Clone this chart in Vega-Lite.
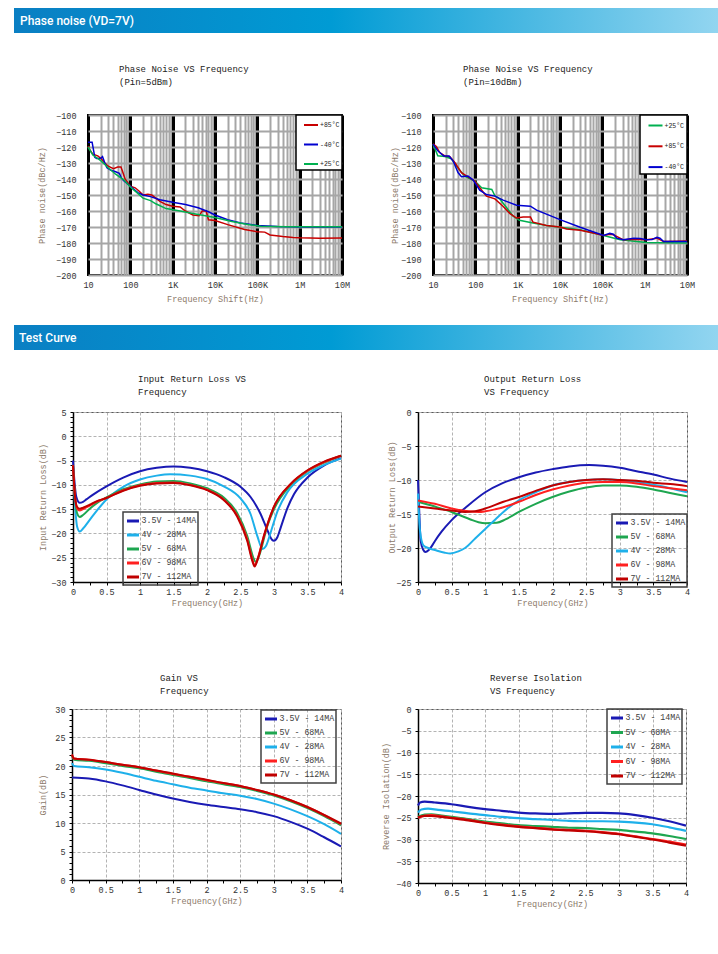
{
"$schema": "https://vega.github.io/schema/vega-lite/v6.json",
"padding": {"left": 0, "top": 8, "right": 0, "bottom": 0},
"spacing": 0, "bounds": "full",
"resolve": {"scale": {"color": "independent"}, "legend": {"color": "independent"}},
"config": {
 "font": "Liberation Mono",
 "view": {"stroke": null},
 "axis": {"labelFont": "Liberation Mono", "titleFont": "Liberation Mono", "labelFontSize": 8.5, "titleFontSize": 8.5, "titleFontWeight": "normal", "labelColor": "#333333", "titleColor": "#8c7a6a", "domain": false, "ticks": false, "labelOverlap": false, "labelFlush": false},
 "legend": {"strokeWidth": 1.5, "labelFont": "Liberation Mono"},
 "title": {"font": "Liberation Mono", "fontSize": 9, "fontWeight": "normal", "color": "#222222", "anchor": "start", "frame": "group", "lineHeight": 13}
},
"vconcat": [
 {"spacing": 0, "bounds": "flush", "hconcat": [
  {"width":14,"height":25,"data":{"values":[]},"mark":"point"},
  {"width":704,"height":25,"data":{"values":[{"section":"Phase noise (VD=7V)"}]},
   "layer":[
    {"mark":{"type":"rect","color":{"gradient":"linear","x1":0,"x2":1,"y1":0,"y2":0,"stops":[{"offset":0,"color":"#0a7fc3"},{"offset":0.45,"color":"#009bd4"},{"offset":1,"color":"#92d5f0"}]}},"encoding":{}},
    {"mark":{"type":"text","align":"left","baseline":"middle","dx":6,"font":"Roboto","fontSize":12,"fontWeight":500,"color":"#ffffff"},
     "encoding":{"x":{"datum":0,"type":"quantitative","scale":{"domain":[0,1]},"axis":null},"text":{"field":"section"}}}
   ]}
 ]},
 {"width":0,"height":31,"data":{"values":[]},"mark":"point"},
 {"spacing": 0, "bounds": "flush", "resolve": {"scale": {"color": "independent"}, "legend": {"color": "independent"}}, "hconcat": [
  {"width":88,"height":160,"data":{"values":[]},"mark":"point"},
  {"width":254,"height":160,
   "title":{"text":["Phase Noise VS Frequency","(Pin=5dBm)"],"dx":31,"offset":24},
   "view":{"stroke":"#000000","strokeWidth":2},
   "data":{"values":[
    {"t":"+85°C","f":10,"v":-119.5},{"t":"+85°C","f":11.5,"v":-122.5},{"t":"+85°C","f":13,"v":-124.5},{"t":"+85°C","f":17,"v":-125.5},{"t":"+85°C","f":20,"v":-127},{"t":"+85°C","f":25,"v":-130},{"t":"+85°C","f":30,"v":-132},{"t":"+85°C","f":40,"v":-133.5},{"t":"+85°C","f":50,"v":-132.5},{"t":"+85°C","f":60,"v":-132.5},{"t":"+85°C","f":65,"v":-135},{"t":"+85°C","f":75,"v":-140},{"t":"+85°C","f":100,"v":-144.5},{"t":"+85°C","f":130,"v":-145.5},{"t":"+85°C","f":160,"v":-147.5},{"t":"+85°C","f":200,"v":-150},{"t":"+85°C","f":260,"v":-149.5},{"t":"+85°C","f":320,"v":-150},{"t":"+85°C","f":400,"v":-152},{"t":"+85°C","f":500,"v":-154},{"t":"+85°C","f":700,"v":-156},{"t":"+85°C","f":1000,"v":-157},{"t":"+85°C","f":1500,"v":-157.5},{"t":"+85°C","f":2000,"v":-160},{"t":"+85°C","f":3000,"v":-162.5},{"t":"+85°C","f":4200,"v":-163},{"t":"+85°C","f":5000,"v":-160},{"t":"+85°C","f":6200,"v":-160},{"t":"+85°C","f":7000,"v":-165.5},{"t":"+85°C","f":10000,"v":-166},{"t":"+85°C","f":20000,"v":-168.5},{"t":"+85°C","f":50000,"v":-171.5},{"t":"+85°C","f":100000,"v":-173},{"t":"+85°C","f":150000,"v":-173.2},{"t":"+85°C","f":200000,"v":-175},{"t":"+85°C","f":400000,"v":-176},{"t":"+85°C","f":700000,"v":-176.5},{"t":"+85°C","f":1000000,"v":-176.7},{"t":"+85°C","f":3000000,"v":-177},{"t":"+85°C","f":10000000,"v":-176.8},
    {"t":"-40°C","f":10,"v":-117},{"t":"-40°C","f":12.5,"v":-117},{"t":"-40°C","f":14.5,"v":-126.5},{"t":"-40°C","f":16,"v":-127.2},{"t":"-40°C","f":20,"v":-127},{"t":"-40°C","f":22,"v":-126},{"t":"-40°C","f":25,"v":-130},{"t":"-40°C","f":28,"v":-133},{"t":"-40°C","f":35,"v":-134.5},{"t":"-40°C","f":45,"v":-135.5},{"t":"-40°C","f":55,"v":-136.5},{"t":"-40°C","f":62,"v":-139.5},{"t":"-40°C","f":70,"v":-141},{"t":"-40°C","f":100,"v":-144.5},{"t":"-40°C","f":150,"v":-148.5},{"t":"-40°C","f":200,"v":-150},{"t":"-40°C","f":300,"v":-151},{"t":"-40°C","f":500,"v":-153},{"t":"-40°C","f":1000,"v":-154.5},{"t":"-40°C","f":2000,"v":-156},{"t":"-40°C","f":4000,"v":-158},{"t":"-40°C","f":7000,"v":-160.5},{"t":"-40°C","f":10000,"v":-162.5},{"t":"-40°C","f":20000,"v":-165.5},{"t":"-40°C","f":40000,"v":-167.5},{"t":"-40°C","f":100000,"v":-169},{"t":"-40°C","f":300000,"v":-169.7},{"t":"-40°C","f":1000000,"v":-170},{"t":"-40°C","f":10000000,"v":-170},
    {"t":"+25°C","f":10,"v":-120},{"t":"+25°C","f":13,"v":-125},{"t":"+25°C","f":20,"v":-128.5},{"t":"+25°C","f":30,"v":-133},{"t":"+25°C","f":45,"v":-137},{"t":"+25°C","f":70,"v":-140.5},{"t":"+25°C","f":100,"v":-145},{"t":"+25°C","f":150,"v":-149},{"t":"+25°C","f":200,"v":-152},{"t":"+25°C","f":300,"v":-153.5},{"t":"+25°C","f":400,"v":-155.5},{"t":"+25°C","f":700,"v":-158.5},{"t":"+25°C","f":1500,"v":-160},{"t":"+25°C","f":3000,"v":-161.5},{"t":"+25°C","f":10000,"v":-164},{"t":"+25°C","f":25000,"v":-166.5},{"t":"+25°C","f":60000,"v":-168.5},{"t":"+25°C","f":120000,"v":-169.5},{"t":"+25°C","f":500000,"v":-169.8},{"t":"+25°C","f":10000000,"v":-169.8}
   ]},
   "mark":{"type":"line","strokeWidth":1.5},
   "encoding":{
    "x":{"field":"f","type":"quantitative","scale":{"type":"log","domain":[10,10000000],"nice":false},
     "axis":{"values":[10,20,30,40,50,60,70,80,90,100,200,300,400,500,600,700,800,900,1000,2000,3000,4000,5000,6000,7000,8000,9000,10000,20000,30000,40000,50000,60000,70000,80000,90000,100000,200000,300000,400000,500000,600000,700000,800000,900000,1000000,2000000,3000000,4000000,5000000,6000000,7000000,8000000,9000000,10000000],
      "labelExpr":"datum.value == 10 ? '10' : datum.value == 100 ? '100' : datum.value == 1000 ? '1K' : datum.value == 10000 ? '10K' : datum.value == 100000 ? '100K' : datum.value == 1000000 ? '1M' : datum.value == 10000000 ? '10M' : ''",
      "title":"Frequency Shift(Hz)","grid":true,
      "gridColor":{"condition":{"test":"indexof([10,100,1000,10000,100000,1000000,10000000], datum.value) >= 0","value":"#000000"},"value":"#a6a6a6"},
      "gridWidth":{"condition":{"test":"indexof([10,100,1000,10000,100000,1000000,10000000], datum.value) >= 0","value":3},"value":2},
      "labelPadding":5,"titlePadding":6}},
    "y":{"field":"v","type":"quantitative","scale":{"domain":[-200,-100],"nice":false},
     "axis":{"values":[-200,-190,-180,-170,-160,-150,-140,-130,-120,-110,-100],"title":"Phase noise(dBc/Hz)","grid":true,"gridColor":"#a6a6a6","gridWidth":2,"labelPadding":12,"titlePadding":9}},
    "color":{"field":"t","type":"nominal","scale":{"domain":["+85°C","-40°C","+25°C"],"range":["#c80000","#0000d0","#00b050"]},
     "legend":{"title":null,"orient":"top-right","offset":0,"padding":2,"rowPadding":7.5,"symbolType":"stroke","symbolSize":196,"symbolStrokeWidth":2,"symbolOffset":5,"labelFontSize":6.5,"labelColor":"#222222","labelOffset":1,"strokeColor":"#000000","fillColor":"#ffffff"}}
   }},
  {"width":91,"height":160,"data":{"values":[]},"mark":"point"},
  {"width":254,"height":160,
   "title":{"text":["Phase Noise VS Frequency","(Pin=10dBm)"],"dx":30,"offset":24},
   "view":{"stroke":"#000000","strokeWidth":2},
   "data":{"values":[
    {"t":"+25°C","f":10,"v":-118.2},{"t":"+25°C","f":13,"v":-125.5},{"t":"+25°C","f":19,"v":-126},{"t":"+25°C","f":27,"v":-127.3},{"t":"+25°C","f":36,"v":-132},{"t":"+25°C","f":56,"v":-138.2},{"t":"+25°C","f":81,"v":-140.3},{"t":"+25°C","f":98,"v":-141.3},{"t":"+25°C","f":141,"v":-145.5},{"t":"+25°C","f":245,"v":-146.5},{"t":"+25°C","f":290,"v":-150.5},{"t":"+25°C","f":380,"v":-152.5},{"t":"+25°C","f":550,"v":-158},{"t":"+25°C","f":780,"v":-163.3},{"t":"+25°C","f":1100,"v":-165.8},{"t":"+25°C","f":2300,"v":-167.5},{"t":"+25°C","f":4800,"v":-169},{"t":"+25°C","f":10000,"v":-170.2},{"t":"+25°C","f":30000,"v":-171.7},{"t":"+25°C","f":107000,"v":-175.3},{"t":"+25°C","f":265000,"v":-178},{"t":"+25°C","f":1100000,"v":-179.7},{"t":"+25°C","f":10000000,"v":-180},
    {"t":"+85°C","f":10,"v":-118},{"t":"+85°C","f":12,"v":-119.7},{"t":"+85°C","f":14.4,"v":-123.5},{"t":"+85°C","f":19,"v":-125.6},{"t":"+85°C","f":25,"v":-126},{"t":"+85°C","f":33,"v":-129.8},{"t":"+85°C","f":47,"v":-136},{"t":"+85°C","f":67,"v":-138.6},{"t":"+85°C","f":97,"v":-141.3},{"t":"+85°C","f":127,"v":-145.5},{"t":"+85°C","f":183,"v":-150.7},{"t":"+85°C","f":290,"v":-152.4},{"t":"+85°C","f":450,"v":-157},{"t":"+85°C","f":660,"v":-161.6},{"t":"+85°C","f":940,"v":-164.4},{"t":"+85°C","f":1350,"v":-163.7},{"t":"+85°C","f":2000,"v":-163.7},{"t":"+85°C","f":2300,"v":-167},{"t":"+85°C","f":4800,"v":-169},{"t":"+85°C","f":10000,"v":-170},{"t":"+85°C","f":14300,"v":-171.3},{"t":"+85°C","f":30000,"v":-172.1},{"t":"+85°C","f":61000,"v":-173.8},{"t":"+85°C","f":107000,"v":-175.3},{"t":"+85°C","f":150000,"v":-174.5},{"t":"+85°C","f":182000,"v":-174.9},{"t":"+85°C","f":218000,"v":-175.9},{"t":"+85°C","f":315000,"v":-178},{"t":"+85°C","f":500000,"v":-177.6},{"t":"+85°C","f":1100000,"v":-178},{"t":"+85°C","f":1950000,"v":-177},{"t":"+85°C","f":2800000,"v":-179.1},{"t":"+85°C","f":10000000,"v":-178.7},
    {"t":"-40°C","f":10,"v":-118.2},{"t":"-40°C","f":13,"v":-122.4},{"t":"-40°C","f":18,"v":-125.6},{"t":"-40°C","f":24,"v":-125.6},{"t":"-40°C","f":30,"v":-128.8},{"t":"-40°C","f":39,"v":-136},{"t":"-40°C","f":47,"v":-138.6},{"t":"-40°C","f":67,"v":-138.2},{"t":"-40°C","f":89,"v":-140.7},{"t":"-40°C","f":127,"v":-147},{"t":"-40°C","f":183,"v":-149.7},{"t":"-40°C","f":290,"v":-150.7},{"t":"-40°C","f":454,"v":-153.2},{"t":"-40°C","f":940,"v":-156.4},{"t":"-40°C","f":2000,"v":-157},{"t":"-40°C","f":2800,"v":-159.5},{"t":"-40°C","f":10000,"v":-165.4},{"t":"-40°C","f":30000,"v":-170.2},{"t":"-40°C","f":107000,"v":-175.3},{"t":"-40°C","f":150000,"v":-174},{"t":"-40°C","f":182000,"v":-174.5},{"t":"-40°C","f":220000,"v":-177},{"t":"-40°C","f":315000,"v":-178},{"t":"-40°C","f":550000,"v":-177},{"t":"-40°C","f":790000,"v":-177.2},{"t":"-40°C","f":1100000,"v":-178},{"t":"-40°C","f":1500000,"v":-177.8},{"t":"-40°C","f":1950000,"v":-176.5},{"t":"-40°C","f":2300000,"v":-177},{"t":"-40°C","f":2800000,"v":-179.1},{"t":"-40°C","f":10000000,"v":-179.1}
   ]},
   "mark":{"type":"line","strokeWidth":1.5},
   "encoding":{
    "x":{"field":"f","type":"quantitative","scale":{"type":"log","domain":[10,10000000],"nice":false},
     "axis":{"values":[10,20,30,40,50,60,70,80,90,100,200,300,400,500,600,700,800,900,1000,2000,3000,4000,5000,6000,7000,8000,9000,10000,20000,30000,40000,50000,60000,70000,80000,90000,100000,200000,300000,400000,500000,600000,700000,800000,900000,1000000,2000000,3000000,4000000,5000000,6000000,7000000,8000000,9000000,10000000],
      "labelExpr":"datum.value == 10 ? '10' : datum.value == 100 ? '100' : datum.value == 1000 ? '1K' : datum.value == 10000 ? '10K' : datum.value == 100000 ? '100K' : datum.value == 1000000 ? '1M' : datum.value == 10000000 ? '10M' : ''",
      "title":"Frequency Shift(Hz)","grid":true,
      "gridColor":{"condition":{"test":"indexof([10,100,1000,10000,100000,1000000,10000000], datum.value) >= 0","value":"#000000"},"value":"#a6a6a6"},
      "gridWidth":{"condition":{"test":"indexof([10,100,1000,10000,100000,1000000,10000000], datum.value) >= 0","value":3},"value":2},
      "labelPadding":5,"titlePadding":6}},
    "y":{"field":"v","type":"quantitative","scale":{"domain":[-200,-100],"nice":false},
     "axis":{"values":[-200,-190,-180,-170,-160,-150,-140,-130,-120,-110,-100],"title":"Phase noise(dBc/Hz)","grid":true,"gridColor":"#a6a6a6","gridWidth":2,"labelPadding":12,"titlePadding":1}},
    "color":{"field":"t","type":"nominal","scale":{"domain":["+25°C","+85°C","-40°C"],"range":["#00b050","#c80000","#0000d0"]},
     "legend":{"title":null,"orient":"top-right","offset":0,"padding":2.5,"rowPadding":8.8,"symbolType":"stroke","symbolSize":196,"symbolStrokeWidth":2,"symbolOffset":5,"labelFontSize":6.5,"labelColor":"#222222","labelOffset":1,"strokeColor":"#000000","fillColor":"#ffffff"}}
   }}
 ]},
 {"width":0,"height":21,"data":{"values":[]},"mark":"point"},
 {"spacing": 0, "bounds": "flush", "hconcat": [
  {"width":14,"height":25,"data":{"values":[]},"mark":"point"},
  {"width":704,"height":25,"data":{"values":[{"section":"Test Curve"}]},
   "layer":[
    {"mark":{"type":"rect","color":{"gradient":"linear","x1":0,"x2":1,"y1":0,"y2":0,"stops":[{"offset":0,"color":"#0a7fc3"},{"offset":0.45,"color":"#009bd4"},{"offset":1,"color":"#92d5f0"}]}},"encoding":{}},
    {"mark":{"type":"text","align":"left","baseline":"middle","dx":5,"font":"Roboto","fontSize":12,"fontWeight":500,"color":"#ffffff"},
     "encoding":{"x":{"datum":0,"type":"quantitative","scale":{"domain":[0,1]},"axis":null},"text":{"field":"section"}}}
   ]}
 ]},
 {"width":0,"height":24,"data":{"values":[]},"mark":"point"},
 {"spacing": 0, "bounds": "flush", "resolve": {"scale": {"color": "independent"}, "legend": {"color": "independent"}}, "hconcat": [
  {"width":73,"height":170,"data":{"values":[]},"mark":"point"},
  {"width":268,"height":170,
   "title":{"text":["Input Return Loss VS","Frequency"],"dx":65,"offset":11},
   "view":{"stroke":"#595959","strokeWidth":1},
   "data":{"values":[
    {"s":"3.5V - 14MA","f":0,"v":-5.0},{"s":"3.5V - 14MA","f":0.02,"v":-9},{"s":"3.5V - 14MA","f":0.05,"v":-12.5},{"s":"3.5V - 14MA","f":0.1,"v":-13.7},{"s":"3.5V - 14MA","f":0.15,"v":-13.5},{"s":"3.5V - 14MA","f":0.2,"v":-13.0},{"s":"3.5V - 14MA","f":0.3,"v":-12.0},{"s":"3.5V - 14MA","f":0.5,"v":-10.3},{"s":"3.5V - 14MA","f":0.75,"v":-8.5},{"s":"3.5V - 14MA","f":1.0,"v":-7.2},{"s":"3.5V - 14MA","f":1.25,"v":-6.5},{"s":"3.5V - 14MA","f":1.5,"v":-6.2},{"s":"3.5V - 14MA","f":1.75,"v":-6.5},{"s":"3.5V - 14MA","f":2.0,"v":-7.2},{"s":"3.5V - 14MA","f":2.25,"v":-8.4},{"s":"3.5V - 14MA","f":2.5,"v":-10.4},{"s":"3.5V - 14MA","f":2.65,"v":-12.5},{"s":"3.5V - 14MA","f":2.8,"v":-16},{"s":"3.5V - 14MA","f":2.9,"v":-19.3},{"s":"3.5V - 14MA","f":2.97,"v":-21.3},{"s":"3.5V - 14MA","f":3.0,"v":-21.5},{"s":"3.5V - 14MA","f":3.05,"v":-20.8},{"s":"3.5V - 14MA","f":3.1,"v":-18.8},{"s":"3.5V - 14MA","f":3.2,"v":-14.8},{"s":"3.5V - 14MA","f":3.3,"v":-11.9},{"s":"3.5V - 14MA","f":3.5,"v":-8.5},{"s":"3.5V - 14MA","f":3.75,"v":-6.0},{"s":"3.5V - 14MA","f":4.0,"v":-4.5},
    {"s":"4V - 28MA","f":0,"v":-6},{"s":"4V - 28MA","f":0.03,"v":-14},{"s":"4V - 28MA","f":0.06,"v":-18.5},{"s":"4V - 28MA","f":0.1,"v":-19.6},{"s":"4V - 28MA","f":0.15,"v":-19.0},{"s":"4V - 28MA","f":0.25,"v":-17.2},{"s":"4V - 28MA","f":0.35,"v":-15.4},{"s":"4V - 28MA","f":0.5,"v":-13.0},{"s":"4V - 28MA","f":0.75,"v":-10.4},{"s":"4V - 28MA","f":1.0,"v":-8.9},{"s":"4V - 28MA","f":1.25,"v":-8.1},{"s":"4V - 28MA","f":1.45,"v":-7.8},{"s":"4V - 28MA","f":1.75,"v":-8.1},{"s":"4V - 28MA","f":2.0,"v":-8.8},{"s":"4V - 28MA","f":2.25,"v":-10.3},{"s":"4V - 28MA","f":2.5,"v":-12.8},{"s":"4V - 28MA","f":2.65,"v":-16},{"s":"4V - 28MA","f":2.75,"v":-20.5},{"s":"4V - 28MA","f":2.83,"v":-23.2},{"s":"4V - 28MA","f":2.88,"v":-22.6},{"s":"4V - 28MA","f":2.95,"v":-19.8},{"s":"4V - 28MA","f":3.05,"v":-15.5},{"s":"4V - 28MA","f":3.2,"v":-11.5},{"s":"4V - 28MA","f":3.5,"v":-7.7},{"s":"4V - 28MA","f":3.75,"v":-5.9},{"s":"4V - 28MA","f":4.0,"v":-4.6},
    {"s":"5V - 68MA","f":0,"v":-6},{"s":"5V - 68MA","f":0.03,"v":-12.5},{"s":"5V - 68MA","f":0.06,"v":-15.8},{"s":"5V - 68MA","f":0.1,"v":-16.6},{"s":"5V - 68MA","f":0.15,"v":-16.2},{"s":"5V - 68MA","f":0.25,"v":-14.9},{"s":"5V - 68MA","f":0.35,"v":-13.8},{"s":"5V - 68MA","f":0.5,"v":-12.6},{"s":"5V - 68MA","f":0.75,"v":-10.9},{"s":"5V - 68MA","f":1.0,"v":-9.9},{"s":"5V - 68MA","f":1.25,"v":-9.3},{"s":"5V - 68MA","f":1.5,"v":-9.2},{"s":"5V - 68MA","f":1.75,"v":-9.7},{"s":"5V - 68MA","f":2.0,"v":-10.7},{"s":"5V - 68MA","f":2.25,"v":-12.6},{"s":"5V - 68MA","f":2.45,"v":-15.8},{"s":"5V - 68MA","f":2.6,"v":-20.5},{"s":"5V - 68MA","f":2.7,"v":-25.3},{"s":"5V - 68MA","f":2.73,"v":-25.9},{"s":"5V - 68MA","f":2.78,"v":-24.5},{"s":"5V - 68MA","f":2.9,"v":-18.5},{"s":"5V - 68MA","f":3.0,"v":-15.0},{"s":"5V - 68MA","f":3.25,"v":-10.0},{"s":"5V - 68MA","f":3.5,"v":-7.2},{"s":"5V - 68MA","f":3.75,"v":-5.4},{"s":"5V - 68MA","f":4.0,"v":-4.0},
    {"s":"6V - 98MA","f":0,"v":-6},{"s":"6V - 98MA","f":0.03,"v":-12.5},{"s":"6V - 98MA","f":0.06,"v":-14.8},{"s":"6V - 98MA","f":0.1,"v":-15.3},{"s":"6V - 98MA","f":0.15,"v":-15.0},{"s":"6V - 98MA","f":0.25,"v":-14.3},{"s":"6V - 98MA","f":0.35,"v":-13.5},{"s":"6V - 98MA","f":0.5,"v":-12.7},{"s":"6V - 98MA","f":0.75,"v":-11.1},{"s":"6V - 98MA","f":1.0,"v":-10.1},{"s":"6V - 98MA","f":1.25,"v":-9.6},{"s":"6V - 98MA","f":1.5,"v":-9.5},{"s":"6V - 98MA","f":1.75,"v":-10.0},{"s":"6V - 98MA","f":2.0,"v":-11.0},{"s":"6V - 98MA","f":2.25,"v":-13.0},{"s":"6V - 98MA","f":2.45,"v":-16.3},{"s":"6V - 98MA","f":2.6,"v":-21.2},{"s":"6V - 98MA","f":2.68,"v":-25.5},{"s":"6V - 98MA","f":2.71,"v":-26.6},{"s":"6V - 98MA","f":2.76,"v":-25},{"s":"6V - 98MA","f":2.85,"v":-20.5},{"s":"6V - 98MA","f":3.0,"v":-14.5},{"s":"6V - 98MA","f":3.25,"v":-9.8},{"s":"6V - 98MA","f":3.5,"v":-7.1},{"s":"6V - 98MA","f":3.75,"v":-5.3},{"s":"6V - 98MA","f":4.0,"v":-4.0},
    {"s":"7V - 112MA","f":0,"v":-6},{"s":"7V - 112MA","f":0.03,"v":-12.3},{"s":"7V - 112MA","f":0.06,"v":-14.5},{"s":"7V - 112MA","f":0.1,"v":-14.9},{"s":"7V - 112MA","f":0.15,"v":-14.7},{"s":"7V - 112MA","f":0.25,"v":-14.1},{"s":"7V - 112MA","f":0.35,"v":-13.4},{"s":"7V - 112MA","f":0.5,"v":-12.7},{"s":"7V - 112MA","f":0.75,"v":-11.2},{"s":"7V - 112MA","f":1.0,"v":-10.2},{"s":"7V - 112MA","f":1.25,"v":-9.7},{"s":"7V - 112MA","f":1.5,"v":-9.6},{"s":"7V - 112MA","f":1.75,"v":-10.1},{"s":"7V - 112MA","f":2.0,"v":-11.1},{"s":"7V - 112MA","f":2.25,"v":-13.1},{"s":"7V - 112MA","f":2.45,"v":-16.5},{"s":"7V - 112MA","f":2.6,"v":-21.5},{"s":"7V - 112MA","f":2.68,"v":-25.8},{"s":"7V - 112MA","f":2.71,"v":-26.8},{"s":"7V - 112MA","f":2.76,"v":-25.2},{"s":"7V - 112MA","f":2.85,"v":-20.5},{"s":"7V - 112MA","f":3.0,"v":-14.5},{"s":"7V - 112MA","f":3.25,"v":-9.8},{"s":"7V - 112MA","f":3.5,"v":-7.0},{"s":"7V - 112MA","f":3.75,"v":-5.2},{"s":"7V - 112MA","f":4.0,"v":-4.0}
   ]},
   "mark":{"type":"line","strokeWidth":2,"interpolate":"monotone"},
   "encoding":{
    "x":{"field":"f","type":"quantitative","scale":{"domain":[0,4],"nice":false},
     "axis":{"values":[0,0.25,0.5,0.75,1,1.25,1.5,1.75,2,2.25,2.5,2.75,3,3.25,3.5,3.75,4],"format":"~g","labelExpr":"datum.value*2 == round(datum.value*2) ? datum.label : ''","title":"Frequency(GHz)","grid":true,"gridDash":[3,2],"gridColor":"#b3b3b3","gridOpacity":{"condition":{"test":"datum.value*2 == round(datum.value*2)","value":1},"value":0},"domain":true,"domainColor":"#000000","domainWidth":1.5,"ticks":true,"tickSize":3,"tickColor":"#000000","labelPadding":2,"titlePadding":3}},
    "y":{"field":"v","type":"quantitative","scale":{"domain":[-30,5],"nice":false},
     "axis":{"values":[-30,-29,-28,-27,-26,-25,-24,-23,-22,-21,-20,-19,-18,-17,-16,-15,-14,-13,-12,-11,-10,-9,-8,-7,-6,-5,-4,-3,-2,-1,0,1,2,3,4,5],"labelExpr":"datum.value % 5 == 0 ? datum.label : ''","title":"Input Return Loss(dB)","grid":true,"gridDash":[3,2],"gridColor":"#b3b3b3","gridOpacity":{"condition":{"test":"datum.value % 5 == 0","value":1},"value":0},"domain":true,"domainColor":"#000000","domainWidth":1.5,"ticks":true,"tickSize":3,"tickColor":"#000000","labelPadding":4,"titlePadding":3}},
    "color":{"field":"s","type":"nominal","scale":{"domain":["3.5V - 14MA","4V - 28MA","5V - 68MA","6V - 98MA","7V - 112MA"],"range":["#1a1ab4","#1eb0ea","#1ea650","#ff2020","#c00000"]},
     "legend":{"title":null,"orient":"none","legendX":50,"legendY":100,"padding":1.5,"rowPadding":-1,"symbolType":"stroke","symbolSize":144,"symbolStrokeWidth":3,"symbolOffset":1,"labelFontSize":8.3,"labelColor":"#404040","labelOffset":1,"strokeColor":"#404040"}}
   }},
  {"width":77,"height":170,"data":{"values":[]},"mark":"point"},
  {"width":269,"height":170,
   "title":{"text":["Output Return Loss","VS Frequency"],"dx":66,"offset":11},
   "view":{"stroke":"#595959","strokeWidth":1},
   "data":{"values":[
    {"s":"3.5V - 14MA","f":0,"v":-10},{"s":"3.5V - 14MA","f":0.02,"v":-15},{"s":"3.5V - 14MA","f":0.04,"v":-19},{"s":"3.5V - 14MA","f":0.08,"v":-20.3},{"s":"3.5V - 14MA","f":0.11,"v":-20.6},{"s":"3.5V - 14MA","f":0.16,"v":-20.3},{"s":"3.5V - 14MA","f":0.2,"v":-19.8},{"s":"3.5V - 14MA","f":0.25,"v":-19.0},{"s":"3.5V - 14MA","f":0.35,"v":-17.6},{"s":"3.5V - 14MA","f":0.5,"v":-15.9},{"s":"3.5V - 14MA","f":0.75,"v":-13.7},{"s":"3.5V - 14MA","f":1.0,"v":-11.8},{"s":"3.5V - 14MA","f":1.25,"v":-10.5},{"s":"3.5V - 14MA","f":1.5,"v":-9.6},{"s":"3.5V - 14MA","f":1.75,"v":-8.9},{"s":"3.5V - 14MA","f":2.0,"v":-8.4},{"s":"3.5V - 14MA","f":2.25,"v":-8.0},{"s":"3.5V - 14MA","f":2.55,"v":-7.8},{"s":"3.5V - 14MA","f":2.75,"v":-7.9},{"s":"3.5V - 14MA","f":3.0,"v":-8.2},{"s":"3.5V - 14MA","f":3.25,"v":-8.7},{"s":"3.5V - 14MA","f":3.5,"v":-9.2},{"s":"3.5V - 14MA","f":3.75,"v":-9.8},{"s":"3.5V - 14MA","f":4.0,"v":-10.3},
    {"s":"5V - 68MA","f":0,"v":-13.2},{"s":"5V - 68MA","f":0.25,"v":-13.9},{"s":"5V - 68MA","f":0.5,"v":-14.7},{"s":"5V - 68MA","f":0.65,"v":-15.3},{"s":"5V - 68MA","f":0.78,"v":-15.8},{"s":"5V - 68MA","f":0.9,"v":-16.2},{"s":"5V - 68MA","f":1.0,"v":-16.35},{"s":"5V - 68MA","f":1.17,"v":-16.3},{"s":"5V - 68MA","f":1.3,"v":-15.8},{"s":"5V - 68MA","f":1.5,"v":-14.7},{"s":"5V - 68MA","f":1.75,"v":-13.5},{"s":"5V - 68MA","f":2.0,"v":-12.5},{"s":"5V - 68MA","f":2.25,"v":-11.7},{"s":"5V - 68MA","f":2.5,"v":-11.1},{"s":"5V - 68MA","f":2.75,"v":-10.8},{"s":"5V - 68MA","f":3.0,"v":-10.8},{"s":"5V - 68MA","f":3.25,"v":-11.0},{"s":"5V - 68MA","f":3.5,"v":-11.4},{"s":"5V - 68MA","f":3.75,"v":-11.9},{"s":"5V - 68MA","f":4.0,"v":-12.4},
    {"s":"4V - 28MA","f":0,"v":-12},{"s":"4V - 28MA","f":0.03,"v":-17.5},{"s":"4V - 28MA","f":0.08,"v":-19.6},{"s":"4V - 28MA","f":0.15,"v":-20.0},{"s":"4V - 28MA","f":0.25,"v":-20.3},{"s":"4V - 28MA","f":0.4,"v":-20.7},{"s":"4V - 28MA","f":0.48,"v":-20.8},{"s":"4V - 28MA","f":0.6,"v":-20.5},{"s":"4V - 28MA","f":0.7,"v":-20.0},{"s":"4V - 28MA","f":0.85,"v":-18.6},{"s":"4V - 28MA","f":1.0,"v":-17.2},{"s":"4V - 28MA","f":1.15,"v":-15.8},{"s":"4V - 28MA","f":1.27,"v":-14.7},{"s":"4V - 28MA","f":1.5,"v":-13.0},{"s":"4V - 28MA","f":1.75,"v":-11.8},{"s":"4V - 28MA","f":2.0,"v":-10.8},{"s":"4V - 28MA","f":2.25,"v":-10.3},{"s":"4V - 28MA","f":2.5,"v":-10.0},{"s":"4V - 28MA","f":2.76,"v":-9.9},{"s":"4V - 28MA","f":3.0,"v":-10.0},{"s":"4V - 28MA","f":3.25,"v":-10.3},{"s":"4V - 28MA","f":3.5,"v":-10.7},{"s":"4V - 28MA","f":3.75,"v":-11.2},{"s":"4V - 28MA","f":4.0,"v":-11.8},
    {"s":"6V - 98MA","f":0,"v":-13.0},{"s":"6V - 98MA","f":0.25,"v":-13.5},{"s":"6V - 98MA","f":0.5,"v":-14.2},{"s":"6V - 98MA","f":0.75,"v":-14.6},{"s":"6V - 98MA","f":0.9,"v":-14.7},{"s":"6V - 98MA","f":1.0,"v":-14.6},{"s":"6V - 98MA","f":1.15,"v":-14.3},{"s":"6V - 98MA","f":1.27,"v":-14.0},{"s":"6V - 98MA","f":1.5,"v":-13.2},{"s":"6V - 98MA","f":1.75,"v":-12.2},{"s":"6V - 98MA","f":2.0,"v":-11.4},{"s":"6V - 98MA","f":2.25,"v":-10.8},{"s":"6V - 98MA","f":2.5,"v":-10.4},{"s":"6V - 98MA","f":2.75,"v":-10.3},{"s":"6V - 98MA","f":3.0,"v":-10.3},{"s":"6V - 98MA","f":3.25,"v":-10.5},{"s":"6V - 98MA","f":3.5,"v":-10.9},{"s":"6V - 98MA","f":3.75,"v":-11.2},{"s":"6V - 98MA","f":4.0,"v":-11.5},
    {"s":"7V - 112MA","f":0,"v":-13.9},{"s":"7V - 112MA","f":0.25,"v":-14.2},{"s":"7V - 112MA","f":0.5,"v":-14.5},{"s":"7V - 112MA","f":0.7,"v":-14.7},{"s":"7V - 112MA","f":0.85,"v":-14.6},{"s":"7V - 112MA","f":1.0,"v":-14.2},{"s":"7V - 112MA","f":1.27,"v":-13.2},{"s":"7V - 112MA","f":1.5,"v":-12.5},{"s":"7V - 112MA","f":1.75,"v":-11.6},{"s":"7V - 112MA","f":2.0,"v":-10.8},{"s":"7V - 112MA","f":2.25,"v":-10.3},{"s":"7V - 112MA","f":2.5,"v":-10.0},{"s":"7V - 112MA","f":2.75,"v":-9.9},{"s":"7V - 112MA","f":3.0,"v":-10.0},{"s":"7V - 112MA","f":3.25,"v":-10.1},{"s":"7V - 112MA","f":3.5,"v":-10.4},{"s":"7V - 112MA","f":3.75,"v":-10.6},{"s":"7V - 112MA","f":4.0,"v":-10.9}
   ]},
   "mark":{"type":"line","strokeWidth":2,"interpolate":"monotone"},
   "encoding":{
    "x":{"field":"f","type":"quantitative","scale":{"domain":[0,4],"nice":false},
     "axis":{"values":[0,0.25,0.5,0.75,1,1.25,1.5,1.75,2,2.25,2.5,2.75,3,3.25,3.5,3.75,4],"format":"~g","labelExpr":"datum.value*2 == round(datum.value*2) ? datum.label : ''","title":"Frequency(GHz)","grid":true,"gridDash":[3,2],"gridColor":"#b3b3b3","gridOpacity":{"condition":{"test":"datum.value*2 == round(datum.value*2)","value":1},"value":0},"domain":true,"domainColor":"#000000","domainWidth":1.5,"ticks":true,"tickSize":3,"tickColor":"#000000","labelPadding":2,"titlePadding":3}},
    "y":{"field":"v","type":"quantitative","scale":{"domain":[-25,0],"nice":false},
     "axis":{"values":[-25,-20,-15,-10,-5,0],"title":"Output Return Loss(dB)","grid":true,"gridDash":[3,2],"gridColor":"#b3b3b3","domain":true,"domainColor":"#000000","domainWidth":1.5,"ticks":true,"tickSize":3,"tickColor":"#000000","labelPadding":4,"titlePadding":-1}},
    "color":{"field":"s","type":"nominal","scale":{"domain":["3.5V - 14MA","5V - 68MA","4V - 28MA","6V - 98MA","7V - 112MA"],"range":["#1a1ab4","#1ea650","#1eb0ea","#ff2020","#c00000"]},
     "legend":{"title":null,"orient":"none","legendX":194,"legendY":102,"padding":1.5,"rowPadding":-1.5,"symbolType":"stroke","symbolSize":144,"symbolStrokeWidth":3,"symbolOffset":1,"labelFontSize":8.3,"labelColor":"#404040","labelOffset":1,"strokeColor":"#404040"}}
   }}
 ]},
 {"width":0,"height":65,"data":{"values":[]},"mark":"point"},
 {"spacing": 0, "bounds": "flush", "resolve": {"scale": {"color": "independent"}, "legend": {"color": "independent"}}, "hconcat": [
  {"width":72,"height":171,"data":{"values":[]},"mark":"point"},
  {"width":269,"height":171,
   "title":{"text":["Gain VS","Frequency"],"dx":88,"offset":9},
   "view":{"stroke":"#595959","strokeWidth":1},
   "data":{"values":[
    {"s":"3.5V - 14MA","f":0,"v":18.0},{"s":"3.5V - 14MA","f":0.25,"v":17.8},{"s":"3.5V - 14MA","f":0.5,"v":17.3},{"s":"3.5V - 14MA","f":0.75,"v":16.6},{"s":"3.5V - 14MA","f":1.0,"v":15.8},{"s":"3.5V - 14MA","f":1.25,"v":15.0},{"s":"3.5V - 14MA","f":1.5,"v":14.3},{"s":"3.5V - 14MA","f":1.75,"v":13.7},{"s":"3.5V - 14MA","f":2.0,"v":13.2},{"s":"3.5V - 14MA","f":2.25,"v":12.8},{"s":"3.5V - 14MA","f":2.5,"v":12.4},{"s":"3.5V - 14MA","f":2.75,"v":11.9},{"s":"3.5V - 14MA","f":3.0,"v":11.2},{"s":"3.5V - 14MA","f":3.25,"v":10.2},{"s":"3.5V - 14MA","f":3.5,"v":9.0},{"s":"3.5V - 14MA","f":3.75,"v":7.5},{"s":"3.5V - 14MA","f":4.0,"v":5.9},
    {"s":"4V - 28MA","f":0,"v":20.5},{"s":"4V - 28MA","f":0.03,"v":20.0},{"s":"4V - 28MA","f":0.25,"v":19.8},{"s":"4V - 28MA","f":0.5,"v":19.4},{"s":"4V - 28MA","f":0.75,"v":18.8},{"s":"4V - 28MA","f":1.0,"v":18.1},{"s":"4V - 28MA","f":1.25,"v":17.4},{"s":"4V - 28MA","f":1.5,"v":16.8},{"s":"4V - 28MA","f":1.75,"v":16.2},{"s":"4V - 28MA","f":2.0,"v":15.7},{"s":"4V - 28MA","f":2.25,"v":15.2},{"s":"4V - 28MA","f":2.5,"v":14.8},{"s":"4V - 28MA","f":2.75,"v":14.2},{"s":"4V - 28MA","f":3.0,"v":13.4},{"s":"4V - 28MA","f":3.25,"v":12.4},{"s":"4V - 28MA","f":3.5,"v":11.2},{"s":"4V - 28MA","f":3.75,"v":9.8},{"s":"4V - 28MA","f":4.0,"v":8.1},
    {"s":"5V - 68MA","f":0,"v":21.8},{"s":"5V - 68MA","f":0.03,"v":21.1},{"s":"5V - 68MA","f":0.25,"v":20.9},{"s":"5V - 68MA","f":0.5,"v":20.5},{"s":"5V - 68MA","f":0.75,"v":20.0},{"s":"5V - 68MA","f":1.0,"v":19.6},{"s":"5V - 68MA","f":1.25,"v":19.0},{"s":"5V - 68MA","f":1.5,"v":18.4},{"s":"5V - 68MA","f":1.75,"v":17.9},{"s":"5V - 68MA","f":2.0,"v":17.3},{"s":"5V - 68MA","f":2.25,"v":16.8},{"s":"5V - 68MA","f":2.5,"v":16.3},{"s":"5V - 68MA","f":2.75,"v":15.6},{"s":"5V - 68MA","f":3.0,"v":14.8},{"s":"5V - 68MA","f":3.25,"v":13.8},{"s":"5V - 68MA","f":3.5,"v":12.6},{"s":"5V - 68MA","f":3.75,"v":11.2},{"s":"5V - 68MA","f":4.0,"v":9.6},
    {"s":"6V - 98MA","f":0,"v":22.0},{"s":"6V - 98MA","f":0.03,"v":21.3},{"s":"6V - 98MA","f":0.25,"v":21.1},{"s":"6V - 98MA","f":0.5,"v":20.7},{"s":"6V - 98MA","f":0.75,"v":20.2},{"s":"6V - 98MA","f":1.0,"v":19.8},{"s":"6V - 98MA","f":1.25,"v":19.2},{"s":"6V - 98MA","f":1.5,"v":18.6},{"s":"6V - 98MA","f":1.75,"v":18.1},{"s":"6V - 98MA","f":2.0,"v":17.5},{"s":"6V - 98MA","f":2.25,"v":17.0},{"s":"6V - 98MA","f":2.5,"v":16.5},{"s":"6V - 98MA","f":2.75,"v":15.8},{"s":"6V - 98MA","f":3.0,"v":15.0},{"s":"6V - 98MA","f":3.25,"v":14.0},{"s":"6V - 98MA","f":3.5,"v":12.8},{"s":"6V - 98MA","f":3.75,"v":11.4},{"s":"6V - 98MA","f":4.0,"v":9.8},
    {"s":"7V - 112MA","f":0,"v":22.0},{"s":"7V - 112MA","f":0.03,"v":21.3},{"s":"7V - 112MA","f":0.25,"v":21.1},{"s":"7V - 112MA","f":0.5,"v":20.7},{"s":"7V - 112MA","f":0.75,"v":20.2},{"s":"7V - 112MA","f":1.0,"v":19.8},{"s":"7V - 112MA","f":1.25,"v":19.2},{"s":"7V - 112MA","f":1.5,"v":18.7},{"s":"7V - 112MA","f":1.75,"v":18.1},{"s":"7V - 112MA","f":2.0,"v":17.6},{"s":"7V - 112MA","f":2.25,"v":17.0},{"s":"7V - 112MA","f":2.5,"v":16.5},{"s":"7V - 112MA","f":2.75,"v":15.8},{"s":"7V - 112MA","f":3.0,"v":15.0},{"s":"7V - 112MA","f":3.25,"v":14.0},{"s":"7V - 112MA","f":3.5,"v":12.8},{"s":"7V - 112MA","f":3.75,"v":11.4},{"s":"7V - 112MA","f":4.0,"v":9.9}
   ]},
   "mark":{"type":"line","strokeWidth":2,"interpolate":"monotone"},
   "encoding":{
    "x":{"field":"f","type":"quantitative","scale":{"domain":[0,4],"nice":false},
     "axis":{"values":[0,0.25,0.5,0.75,1,1.25,1.5,1.75,2,2.25,2.5,2.75,3,3.25,3.5,3.75,4],"format":"~g","labelExpr":"datum.value*2 == round(datum.value*2) ? datum.label : ''","title":"Frequency(GHz)","grid":true,"gridDash":[3,2],"gridColor":"#b3b3b3","gridOpacity":{"condition":{"test":"datum.value*2 == round(datum.value*2)","value":1},"value":0},"domain":true,"domainColor":"#000000","domainWidth":1.5,"ticks":true,"tickSize":3,"tickColor":"#000000","labelPadding":2,"titlePadding":3}},
    "y":{"field":"v","type":"quantitative","scale":{"domain":[0,30],"nice":false},
     "axis":{"values":[0,1,2,3,4,5,6,7,8,9,10,11,12,13,14,15,16,17,18,19,20,21,22,23,24,25,26,27,28,29,30],"labelExpr":"datum.value % 5 == 0 ? datum.label : ''","title":"Gain(dB)","grid":true,"gridDash":[3,2],"gridColor":"#b3b3b3","gridOpacity":{"condition":{"test":"datum.value % 5 == 0","value":1},"value":0},"domain":true,"domainColor":"#000000","domainWidth":1.5,"ticks":true,"tickSize":3,"tickColor":"#000000","labelPadding":4,"titlePadding":7}},
    "color":{"field":"s","type":"nominal","scale":{"domain":["3.5V - 14MA","5V - 68MA","4V - 28MA","6V - 98MA","7V - 112MA"],"range":["#1a1ab4","#1ea650","#1eb0ea","#ff2020","#c00000"]},
     "legend":{"title":null,"orient":"none","legendX":189,"legendY":1,"padding":1.5,"rowPadding":0,"symbolType":"stroke","symbolSize":144,"symbolStrokeWidth":3,"symbolOffset":1,"labelFontSize":8.3,"labelColor":"#404040","labelOffset":1,"strokeColor":"#404040"}}
   }},
  {"width":77,"height":174,"data":{"values":[]},"mark":"point"},
  {"width":268,"height":174,
   "title":{"text":["Reverse Isolation","VS Frequency"],"dx":72,"offset":9},
   "view":{"stroke":"#595959","strokeWidth":1},
   "data":{"values":[
    {"s":"3.5V - 14MA","f":0,"v":-22.2},{"s":"3.5V - 14MA","f":0.03,"v":-21.5},{"s":"3.5V - 14MA","f":0.1,"v":-21.3},{"s":"3.5V - 14MA","f":0.25,"v":-21.5},{"s":"3.5V - 14MA","f":0.5,"v":-21.9},{"s":"3.5V - 14MA","f":0.75,"v":-22.5},{"s":"3.5V - 14MA","f":1.0,"v":-23.0},{"s":"3.5V - 14MA","f":1.25,"v":-23.4},{"s":"3.5V - 14MA","f":1.5,"v":-23.8},{"s":"3.5V - 14MA","f":1.75,"v":-24.0},{"s":"3.5V - 14MA","f":2.0,"v":-24.1},{"s":"3.5V - 14MA","f":2.25,"v":-24.0},{"s":"3.5V - 14MA","f":2.5,"v":-23.9},{"s":"3.5V - 14MA","f":2.75,"v":-23.9},{"s":"3.5V - 14MA","f":3.0,"v":-24.0},{"s":"3.5V - 14MA","f":3.25,"v":-24.4},{"s":"3.5V - 14MA","f":3.5,"v":-25.0},{"s":"3.5V - 14MA","f":3.75,"v":-25.8},{"s":"3.5V - 14MA","f":4.0,"v":-26.8},
    {"s":"5V - 68MA","f":0,"v":-24.8},{"s":"5V - 68MA","f":0.1,"v":-24.3},{"s":"5V - 68MA","f":0.2,"v":-24.2},{"s":"5V - 68MA","f":0.35,"v":-24.5},{"s":"5V - 68MA","f":0.5,"v":-24.8},{"s":"5V - 68MA","f":0.75,"v":-25.3},{"s":"5V - 68MA","f":1.0,"v":-25.9},{"s":"5V - 68MA","f":1.25,"v":-26.3},{"s":"5V - 68MA","f":1.5,"v":-26.7},{"s":"5V - 68MA","f":1.75,"v":-26.9},{"s":"5V - 68MA","f":2.0,"v":-27.1},{"s":"5V - 68MA","f":2.25,"v":-27.3},{"s":"5V - 68MA","f":2.5,"v":-27.4},{"s":"5V - 68MA","f":2.75,"v":-27.6},{"s":"5V - 68MA","f":3.0,"v":-27.8},{"s":"5V - 68MA","f":3.25,"v":-28.2},{"s":"5V - 68MA","f":3.5,"v":-28.6},{"s":"5V - 68MA","f":3.75,"v":-29.2},{"s":"5V - 68MA","f":4.0,"v":-29.9},
    {"s":"4V - 28MA","f":0,"v":-23.8},{"s":"4V - 28MA","f":0.05,"v":-23.1},{"s":"4V - 28MA","f":0.15,"v":-22.9},{"s":"4V - 28MA","f":0.3,"v":-23.2},{"s":"4V - 28MA","f":0.5,"v":-23.5},{"s":"4V - 28MA","f":0.75,"v":-24.0},{"s":"4V - 28MA","f":1.0,"v":-24.4},{"s":"4V - 28MA","f":1.25,"v":-24.8},{"s":"4V - 28MA","f":1.5,"v":-25.1},{"s":"4V - 28MA","f":1.75,"v":-25.3},{"s":"4V - 28MA","f":2.0,"v":-25.5},{"s":"4V - 28MA","f":2.25,"v":-25.7},{"s":"4V - 28MA","f":2.5,"v":-25.8},{"s":"4V - 28MA","f":2.75,"v":-25.8},{"s":"4V - 28MA","f":3.0,"v":-25.9},{"s":"4V - 28MA","f":3.25,"v":-26.1},{"s":"4V - 28MA","f":3.5,"v":-26.5},{"s":"4V - 28MA","f":3.75,"v":-27.2},{"s":"4V - 28MA","f":4.0,"v":-28.0},
    {"s":"6V - 98MA","f":0,"v":-25.0},{"s":"6V - 98MA","f":0.1,"v":-24.5},{"s":"6V - 98MA","f":0.2,"v":-24.4},{"s":"6V - 98MA","f":0.35,"v":-24.7},{"s":"6V - 98MA","f":0.5,"v":-25.0},{"s":"6V - 98MA","f":0.75,"v":-25.5},{"s":"6V - 98MA","f":1.0,"v":-26.1},{"s":"6V - 98MA","f":1.25,"v":-26.6},{"s":"6V - 98MA","f":1.5,"v":-27.0},{"s":"6V - 98MA","f":1.75,"v":-27.3},{"s":"6V - 98MA","f":2.0,"v":-27.6},{"s":"6V - 98MA","f":2.25,"v":-27.8},{"s":"6V - 98MA","f":2.5,"v":-28.0},{"s":"6V - 98MA","f":2.75,"v":-28.3},{"s":"6V - 98MA","f":3.0,"v":-28.7},{"s":"6V - 98MA","f":3.25,"v":-29.3},{"s":"6V - 98MA","f":3.5,"v":-29.9},{"s":"6V - 98MA","f":3.75,"v":-30.5},{"s":"6V - 98MA","f":4.0,"v":-31.2},
    {"s":"7V - 112MA","f":0,"v":-24.9},{"s":"7V - 112MA","f":0.1,"v":-24.6},{"s":"7V - 112MA","f":0.2,"v":-24.6},{"s":"7V - 112MA","f":0.35,"v":-24.8},{"s":"7V - 112MA","f":0.5,"v":-25.1},{"s":"7V - 112MA","f":0.75,"v":-25.6},{"s":"7V - 112MA","f":1.0,"v":-26.2},{"s":"7V - 112MA","f":1.25,"v":-26.7},{"s":"7V - 112MA","f":1.5,"v":-27.1},{"s":"7V - 112MA","f":1.75,"v":-27.4},{"s":"7V - 112MA","f":2.0,"v":-27.7},{"s":"7V - 112MA","f":2.25,"v":-27.9},{"s":"7V - 112MA","f":2.5,"v":-28.1},{"s":"7V - 112MA","f":2.75,"v":-28.4},{"s":"7V - 112MA","f":3.0,"v":-28.8},{"s":"7V - 112MA","f":3.25,"v":-29.4},{"s":"7V - 112MA","f":3.5,"v":-30.0},{"s":"7V - 112MA","f":3.75,"v":-30.7},{"s":"7V - 112MA","f":4.0,"v":-31.4}
   ]},
   "mark":{"type":"line","strokeWidth":2.2,"interpolate":"monotone"},
   "encoding":{
    "x":{"field":"f","type":"quantitative","scale":{"domain":[0,4],"nice":false},
     "axis":{"values":[0,0.25,0.5,0.75,1,1.25,1.5,1.75,2,2.25,2.5,2.75,3,3.25,3.5,3.75,4],"format":"~g","labelExpr":"datum.value*2 == round(datum.value*2) ? datum.label : ''","title":"Frequency(GHz)","grid":true,"gridDash":[3,2],"gridColor":"#b3b3b3","gridOpacity":{"condition":{"test":"datum.value*2 == round(datum.value*2)","value":1},"value":0},"domain":true,"domainColor":"#000000","domainWidth":1.5,"ticks":true,"tickSize":3,"tickColor":"#000000","labelPadding":2,"titlePadding":3}},
    "y":{"field":"v","type":"quantitative","scale":{"domain":[-40,0],"nice":false},
     "axis":{"values":[-40,-35,-30,-25,-20,-15,-10,-5,0],"title":"Reverse Isolation(dB)","grid":true,"gridDash":[3,2],"gridColor":"#b3b3b3","domain":true,"domainColor":"#000000","domainWidth":1.5,"ticks":true,"tickSize":3,"tickColor":"#000000","labelPadding":4,"titlePadding":5}},
    "color":{"field":"s","type":"nominal","scale":{"domain":["3.5V - 14MA","5V - 68MA","4V - 28MA","6V - 98MA","7V - 112MA"],"range":["#1a1ab4","#1ea650","#1eb0ea","#ff2020","#c00000"]},
     "legend":{"title":null,"orient":"none","legendX":189,"legendY":0,"padding":1.5,"rowPadding":0.5,"symbolType":"stroke","symbolSize":144,"symbolStrokeWidth":3,"symbolOffset":1,"labelFontSize":8.3,"labelColor":"#404040","labelOffset":1,"strokeColor":"#404040"}}
   }}
 ]}
]
}
